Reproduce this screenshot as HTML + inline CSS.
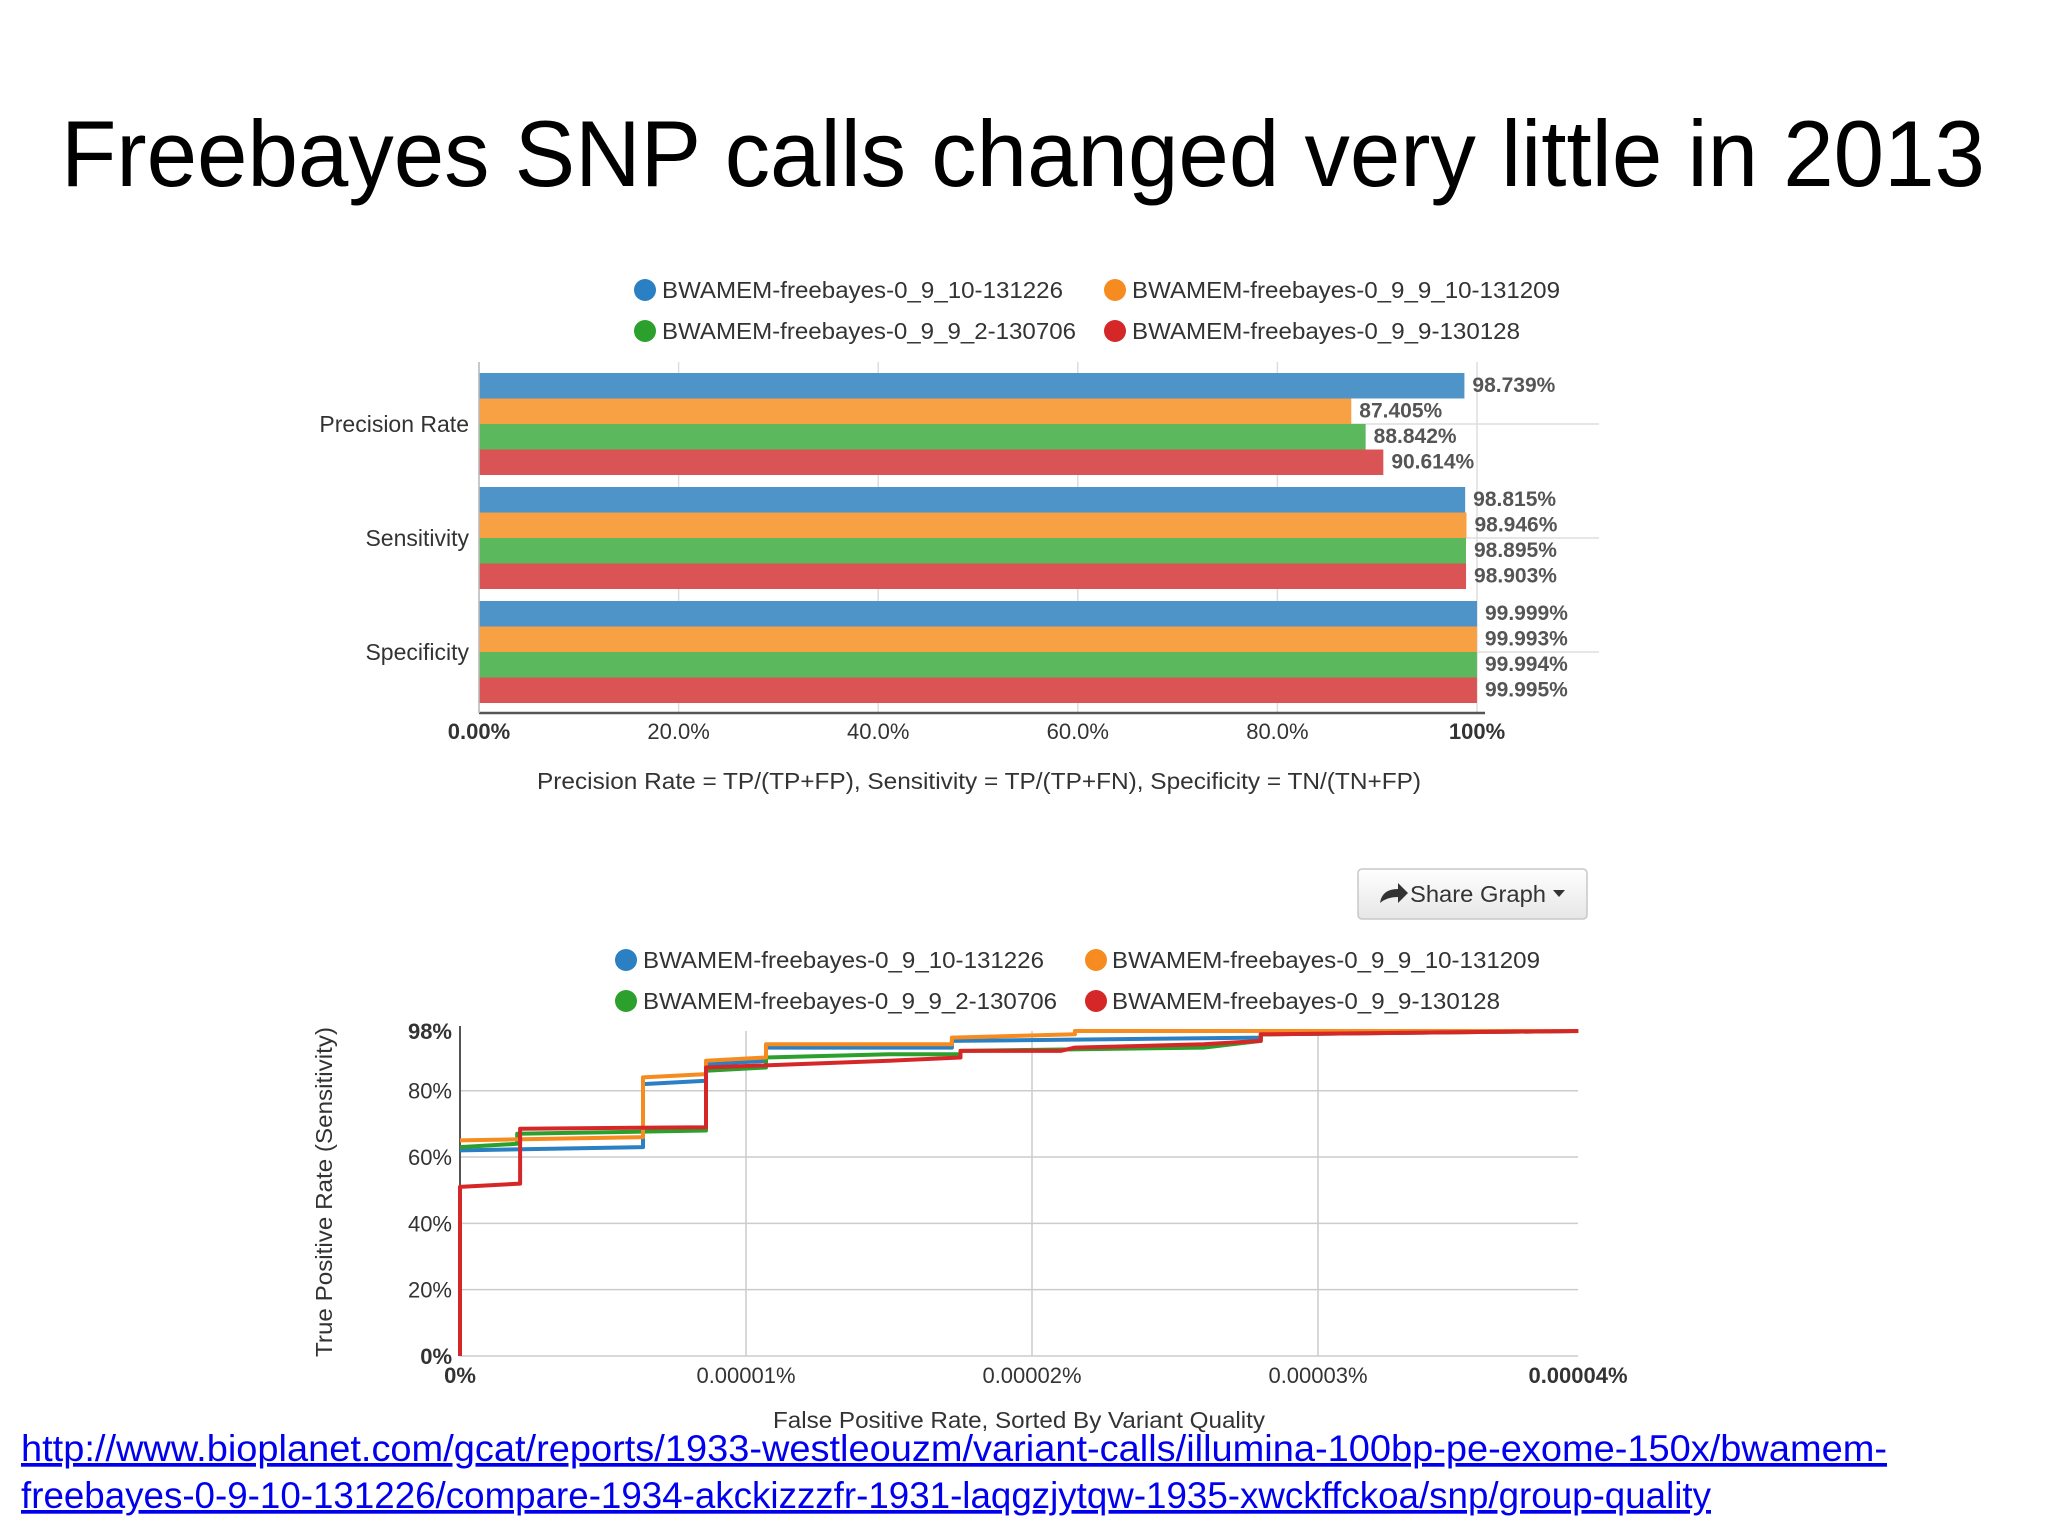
<!DOCTYPE html>
<html><head><meta charset="utf-8">
<style>
html,body{margin:0;padding:0;background:#fff;}
svg{display:block;font-family:"Liberation Sans",sans-serif;}
</style></head>
<body>
<svg id="s" width="2048" height="1536" viewBox="0 0 2048 1536" xmlns="http://www.w3.org/2000/svg">
<text x="61" y="186" font-size="94" textLength="1924" lengthAdjust="spacingAndGlyphs" fill="#000">Freebayes SNP calls changed very little in 2013</text>

<g font-size="23" fill="#333">
<circle cx="645" cy="290" r="11" fill="#2b7fc3"/>
<text x="662" y="298" textLength="401" lengthAdjust="spacingAndGlyphs">BWAMEM-freebayes-0_9_10-131226</text>
<circle cx="1115" cy="290" r="11" fill="#f68b20"/>
<text x="1132" y="298" textLength="428" lengthAdjust="spacingAndGlyphs">BWAMEM-freebayes-0_9_9_10-131209</text>
<circle cx="645" cy="331" r="11" fill="#2ca02c"/>
<text x="662" y="339" textLength="414" lengthAdjust="spacingAndGlyphs">BWAMEM-freebayes-0_9_9_2-130706</text>
<circle cx="1115" cy="331" r="11" fill="#d62728"/>
<text x="1132" y="339" textLength="388" lengthAdjust="spacingAndGlyphs">BWAMEM-freebayes-0_9_9-130128</text>
</g>
<g id="bars"></g>
<text x="979" y="789" font-size="23" fill="#333" text-anchor="middle" textLength="884" lengthAdjust="spacingAndGlyphs">Precision Rate = TP/(TP+FP), Sensitivity = TP/(TP+FN), Specificity = TN/(TN+FP)</text>

<defs><linearGradient id="btn" x1="0" y1="0" x2="0" y2="1"><stop offset="0" stop-color="#fff"/><stop offset="1" stop-color="#e6e6e6"/></linearGradient></defs>
<g>
<rect x="1358" y="869" width="229" height="50" rx="4" fill="url(#btn)" stroke="#c8c8c8" stroke-width="1.5"/>
<path d="M1380 903 q2 -14 18 -14 v-6 l10 10 l-10 10 v-6 q-11 0 -18 6z" fill="#333"/>
<text x="1410" y="902" font-size="23" fill="#333" textLength="136" lengthAdjust="spacingAndGlyphs">Share Graph</text>
<path d="M1553 890 l12 0 l-6 7z" fill="#333"/>
</g>

<g font-size="23" fill="#333">
<circle cx="626" cy="960" r="11" fill="#2b7fc3"/>
<text x="643" y="968" textLength="401" lengthAdjust="spacingAndGlyphs">BWAMEM-freebayes-0_9_10-131226</text>
<circle cx="1096" cy="960" r="11" fill="#f68b20"/>
<text x="1112" y="968" textLength="428" lengthAdjust="spacingAndGlyphs">BWAMEM-freebayes-0_9_9_10-131209</text>
<circle cx="626" cy="1001" r="11" fill="#2ca02c"/>
<text x="643" y="1009" textLength="414" lengthAdjust="spacingAndGlyphs">BWAMEM-freebayes-0_9_9_2-130706</text>
<circle cx="1096" cy="1001" r="11" fill="#d62728"/>
<text x="1112" y="1009" textLength="388" lengthAdjust="spacingAndGlyphs">BWAMEM-freebayes-0_9_9-130128</text>
</g>
<g id="lines"></g>
<text transform="translate(332,1192) rotate(-90)" font-size="23" fill="#333" text-anchor="middle" textLength="330" lengthAdjust="spacingAndGlyphs">True Positive Rate (Sensitivity)</text>
<text x="1019" y="1428" font-size="23" fill="#333" text-anchor="middle" textLength="492" lengthAdjust="spacingAndGlyphs">False Positive Rate, Sorted By Variant Quality</text>

<g fill="#0000ee" font-size="37" text-decoration="underline">
<text x="21" y="1461" textLength="1866" lengthAdjust="spacingAndGlyphs">http://www.bioplanet.com/gcat/reports/1933-westleouzm/variant-calls/illumina-100bp-pe-exome-150x/bwamem-</text>
<text x="21" y="1508" textLength="1690" lengthAdjust="spacingAndGlyphs">freebayes-0-9-10-131226/compare-1934-akckizzzfr-1931-laqgzjytqw-1935-xwckffckoa/snp/group-quality</text>
</g>
</svg>
<script>
const categories = ["Precision Rate","Sensitivity","Specificity"];
const series = ["131226","131209","130706","130128"];
const valuesPrecision = [98.739, 87.405, 88.842, 90.614];
const valuesSensitivity = [98.815, 98.946, 98.895, 98.903];
const valuesSpecificity = [99.999, 99.993, 99.994, 99.995];
const barTicks = ["0.00%","20.0%","40.0%","60.0%","80.0%","100%"];
const barTickValues = [0,20,40,60,80,100];

const rocTicksX = [0,1,2,3];
const rocTickLabelsX = ["0%","0.00001%","0.00002%","0.00003%"];
const rocLastLabel = "0.00004%";
const rocTicksY = [0,20,40,60,80,98];
const rocTickLabelsY = ["0%","20%","40%","60%","80%","98%"];
const fprBlue = [0,0.64,0.64,0.86,0.86,1.07,1.07,1.72,1.72,2.8,2.8,3.91];
const tprBlue = [62,63,82,83,88,89,93,93,95,96,97,98];
const fprGreen = [0,0.2,0.2,0.86,0.86,1.07,1.07,1.5,1.75,1.75,2.6,2.8,2.8,3.91];
const tprGreen = [63,64,67,68,86,87,90,91,91,92,93,95,97,98];
const fprOrange = [0,0.64,0.64,0.86,0.86,1.07,1.07,1.72,1.72,2.15,2.15,3.91];
const tprOrange = [65,66,84,85,89,90,94,94,96,97,98,98];
const fprRed = [0,0,0.21,0.21,0.86,0.86,1.5,1.75,1.75,2.1,2.15,2.6,2.8,2.8,3.91];
const tprRed = [0,51,52,68.5,69,87,89,90,92,92,93,94,95,97,98];

const NS="http://www.w3.org/2000/svg";
function mk(parent,tag,attrs){const e=document.createElementNS(NS,tag);for(const k in attrs)e.setAttribute(k,attrs[k]);parent.appendChild(e);return e;}

// Bar chart
const bars=document.getElementById('bars');
const bx0=479, bx1=1477;
const bxs=v=>bx0+(bx1-bx0)*v/100;
const barColors=["#4f94c8","#f7a044","#5cb85c","#db5455"];
const allVals=[valuesPrecision,valuesSensitivity,valuesSpecificity];
const groupTop=[373,487,601], barH=25.5;
barTickValues.forEach((t,i)=>{
  const g=mk(bars,'line',{x1:bxs(t),x2:bxs(t),y1:362,y2:712,stroke:"#ddd","stroke-width":1.5});
  
  
  const tl=mk(bars,'text',{x:bxs(t),y:739,"font-size":22,fill:"#333","text-anchor":"middle","font-weight":(i==0||i==barTickValues.length-1)?"bold":"normal"});
  tl.textContent=barTicks[i];
  
  
});
categories.forEach((c,ci)=>{
  const top=groupTop[ci];
  const hl=mk(bars,'line',{x1:bx0,x2:1599,y1:top+2*barH,y2:top+2*barH,stroke:"#ddd","stroke-width":1.5});
  
  
  const cl=mk(bars,'text',{x:469,y:top+2*barH+8,"font-size":23,fill:"#333","text-anchor":"end"});
  cl.textContent=c;
  
  
  allVals[ci].forEach((v,si)=>{
    const r=mk(bars,'rect',{x:bx0,y:top+si*barH,width:bxs(v)-bx0,height:barH,fill:barColors[si]});
    
    
    const t=mk(bars,'text',{x:bxs(v)+8,y:top+si*barH+19,"font-size":21,fill:"#555","font-weight":"bold"});
    t.textContent=v.toFixed(3)+"%";
    
    
  });
});
const ax=mk(bars,'line',{x1:bx0,x2:bx1+8,y1:713,y2:713,stroke:"#555","stroke-width":2.5});


const ay=mk(bars,'line',{x1:bx0,x2:bx0,y1:362,y2:713,stroke:"#bbb","stroke-width":1.5});



// ROC chart
const L=document.getElementById('lines');
const lx0=460, lx1=1578, ly0=1356, ly98=1031;
const lxs=v=>lx0+286*v;
const lys=v=>ly0-(ly0-ly98)*v/98;
rocTicksY.forEach((t,i)=>{
  if(t>0&&t<98){const g=mk(L,'line',{x1:lx0,x2:lx1,y1:lys(t),y2:lys(t),stroke:"#ccc","stroke-width":1.5});
  
  }
  const tl=mk(L,'text',{x:452,y:lys(t)+8,"font-size":22,fill:"#333","text-anchor":"end","font-weight":(i==0||i==rocTicksY.length-1)?"bold":"normal"});
  tl.textContent=rocTickLabelsY[i];
  
  
});
rocTicksX.forEach((t,i)=>{
  if(t>0){const g=mk(L,'line',{x1:lxs(t),x2:lxs(t),y1:ly98,y2:ly0,stroke:"#ccc","stroke-width":1.5});
  
  }
  const tl=mk(L,'text',{x:lxs(t),y:1383,"font-size":22,fill:"#333","text-anchor":"middle","font-weight":(i==0)?"bold":"normal"});
  tl.textContent=rocTickLabelsX[i];
  
  
});
const ll=mk(L,'text',{x:lx1,y:1383,"font-size":22,fill:"#333","text-anchor":"middle","font-weight":"bold"});
ll.textContent=rocLastLabel;


const lax=mk(L,'line',{x1:lx0,x2:lx1,y1:ly0,y2:ly0,stroke:"#ccc","stroke-width":1.5});


const lay=mk(L,'line',{x1:lx0,x2:lx0,y1:ly98-5,y2:ly0,stroke:"#555","stroke-width":2});


const lineSeries=[[fprBlue,tprBlue,"#2b7fc3","131226"],[fprGreen,tprGreen,"#2ca02c","130706"],[fprOrange,tprOrange,"#f68b20","131209"],[fprRed,tprRed,"#d62728","130128"]];
lineSeries.forEach(([xs,ys,col,nm])=>{
  const d=xs.map((x,i)=>(i?"L":"M")+lxs(x).toFixed(1)+" "+lys(ys[i]).toFixed(1)).join(" ");
  const p=mk(L,'path',{d:d,fill:"none",stroke:col,"stroke-width":4,"stroke-linejoin":"round"});
  
  
});
</script>
</body></html>
